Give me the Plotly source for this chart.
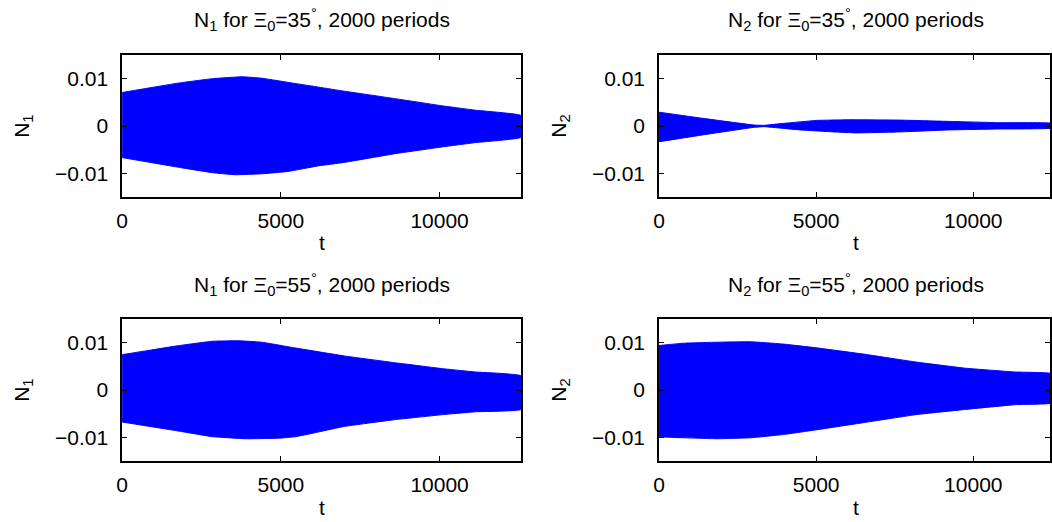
import plotly.graph_objects as go

W, H = 1052, 522

# ---- data (envelopes) ----
t_tl = [0, 1805, 2840, 3776, 4400, 5436, 6202, 6992, 8548, 10104, 11141, 12566]
up_tl = [0.00708, 0.0091, 0.0100, 0.0104, 0.0101, 0.0090, 0.0082, 0.00736, 0.00583, 0.00424, 0.00333, 0.00222]
t_tl_lo = [0, 1805, 2840, 3568, 4400, 5228, 6202, 6992, 8548, 10104, 11141, 12566]
lo_tl = [-0.00667, -0.00875, -0.00986, -0.0103, -0.0101, -0.0096, -0.0084, -0.0077, -0.0059, -0.0044, -0.0035, -0.0024]

t_tr = [0, 1337, 3021, 3337, 3968, 5021, 6074, 7653, 9232, 10811, 12566]
up_tr = [0.00292, 0.00167, 0.0002, 0.00014, 0.00056, 0.00118, 0.00132, 0.00125, 0.00097, 0.0007, 0.00056]
t_tr_lo = [0, 1337, 3021, 3337, 4495, 5547, 6284, 7653, 9232, 10811, 12566]
lo_tr = [-0.00333, -0.00194, -0.00028, -0.00014, -0.00083, -0.00125, -0.00146, -0.00125, -0.00083, -0.00063, -0.00042]

t_bl = [0, 1805, 2840, 3672, 4400, 5436, 6992, 8548, 10104, 11141, 12566]
up_bl = [0.00746, 0.0094, 0.0103, 0.0104, 0.0101, 0.0089, 0.0072, 0.0058, 0.0045, 0.0038, 0.0030]
t_bl_lo = [0, 1805, 2840, 3880, 4917, 5436, 5954, 6992, 8548, 10104, 11141, 12566]
lo_bl = [-0.00676, -0.0087, -0.00986, -0.0103, -0.0102, -0.0099, -0.0092, -0.0077, -0.0063, -0.0052, -0.0046, -0.0041]

t_br = [0, 811, 1863, 2916, 3968, 5021, 6600, 8179, 9758, 11337, 12566]
up_br = [0.0094, 0.0099, 0.0101, 0.0102, 0.0097, 0.0089, 0.0075, 0.0059, 0.0046, 0.0038, 0.0034]
lo_br = [-0.0099, -0.0101, -0.0103, -0.0101, -0.0094, -0.0084, -0.0068, -0.0052, -0.0041, -0.0031, -0.0027]

x_ticks = [0, 5000, 10000]
y_ticks = [-0.01, 0, 0.01]
y_tick_text = ["\u22120.01", "0", "0.01"]
T_END = 12566

titles = [
    "N<sub>1</sub> for \u039e<sub>0</sub>=35<sup>\u00b0</sup>, 2000 periods",
    "N<sub>2</sub> for \u039e<sub>0</sub>=35<sup>\u00b0</sup>, 2000 periods",
    "N<sub>1</sub> for \u039e<sub>0</sub>=55<sup>\u00b0</sup>, 2000 periods",
    "N<sub>2</sub> for \u039e<sub>0</sub>=55<sup>\u00b0</sup>, 2000 periods",
]
ylabels = ["N<sub>1</sub>", "N<sub>2</sub>", "N<sub>1</sub>", "N<sub>2</sub>"]

panels = [
    (t_tl, up_tl, t_tl_lo, lo_tl),
    (t_tr, up_tr, t_tr_lo, lo_tr),
    (t_bl, up_bl, t_bl_lo, lo_bl),
    (t_br, up_br, t_br, lo_br),
]

FONT = "Liberation Sans, Arial, Helvetica, sans-serif"
BLUE = "#0000ff"

# pixel geometry
left_px = [(117, 519), (658, 1056), (117, 519), (658, 1056)]
top_px = [(55, 197), (55, 197), (319, 461), (319, 461)]

fig = go.Figure()
for i, (tu, up, tl, lo) in enumerate(panels):
    k = "" if i == 0 else str(i + 1)
    xs = list(tu) + list(reversed(tl))
    ys = list(up) + list(reversed(lo))
    fig.add_trace(go.Scatter(
        x=xs, y=ys, mode="lines", fill="toself",
        fillcolor=BLUE, line=dict(color=BLUE, width=1, shape="spline", smoothing=0.25),
        xaxis="x" + k, yaxis="y" + k, showlegend=False, hoverinfo="skip"))

    x0, x1 = left_px[i]
    y0, y1 = top_px[i]
    x1c = min(x1, W)
    xr_end = T_END * (x1c - x0) / (x1 - x0)
    xdom = [x0 / W, x1c / W]
    ydom = [1 - y1 / H, 1 - y0 / H]
    common = dict(showline=True, linecolor="black", linewidth=1.5, mirror="ticks",
                  ticks="inside", ticklen=5, tickcolor="black", tickwidth=1,
                  showgrid=False, zeroline=False,
                  tickfont=dict(family=FONT, size=21, color="black"))
    fig.update_layout(**{
        "xaxis" + k: dict(domain=xdom, range=[0, xr_end], tickvals=x_ticks,
                          ticktext=[str(v) for v in x_ticks],
                          anchor="y" + k, ticklabelstandoff=4, **common),
        "yaxis" + k: dict(domain=ydom, range=[-0.015, 0.015], tickvals=y_ticks,
                          ticktext=y_tick_text, anchor="x" + k,
                          ticklabelstandoff=8, **common),
    })
    cx = (x0 + x1) / 2 / W
    fig.add_annotation(text=titles[i], x=cx, y=1 - (y0 - 35) / H, xref="paper", yref="paper",
                       showarrow=False, font=dict(family=FONT, size=21, color="black"),
                       xanchor="center", yanchor="middle")
    fig.add_annotation(text="t", x=cx, y=1 - (y1 + 46) / H, xref="paper", yref="paper",
                       showarrow=False, font=dict(family=FONT, size=21, color="black"),
                       xanchor="center", yanchor="middle")
    fig.add_annotation(text=ylabels[i], x=(x0 - 100) / W, y=1 - (y0 + y1) / 2 / H,
                       xref="paper", yref="paper", textangle=-90,
                       showarrow=False, font=dict(family=FONT, size=21, color="black"),
                       xanchor="center", yanchor="middle")

fig.update_layout(width=W, height=H, margin=dict(l=0, r=0, t=0, b=0),
                  paper_bgcolor="white", plot_bgcolor="white")
fig.write_html("out.html", config={"displayModeBar": False},
               post_script="document.body.style.margin='0';document.body.style.overflow='hidden';")
